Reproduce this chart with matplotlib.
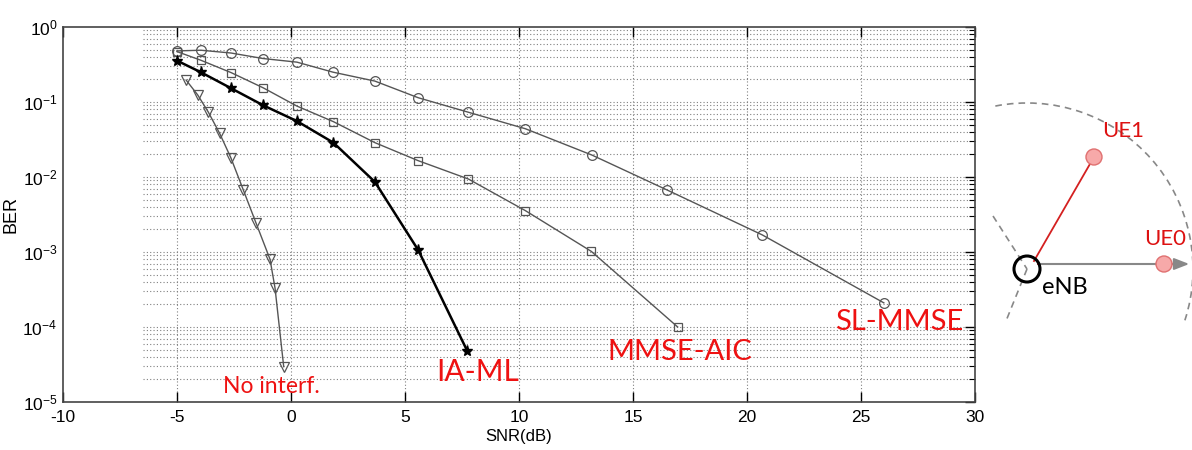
import numpy as np
import matplotlib.pyplot as plt
from matplotlib.patches import Circle, Arc
from matplotlib.ticker import LogLocator, NullFormatter

# BER curves
snr_sl = [-5.0, -3.95, -2.63, -1.23, 0.26, 1.84, 3.68, 5.58, 7.78, 10.28, 13.2, 16.5, 20.67, 26.0]
ber_sl = [0.48, 0.49, 0.45, 0.38, 0.34, 0.25, 0.19, 0.114, 0.073, 0.044, 0.0196, 0.0067, 0.00169, 2.1e-4]

snr_aic = [-5.0, -3.95, -2.62, -1.21, 0.25, 1.86, 3.68, 5.58, 7.78, 10.28, 13.17, 16.96]
ber_aic = [0.47, 0.36, 0.246, 0.154, 0.0885, 0.0547, 0.0287, 0.0165, 0.0094, 0.00356, 0.00102, 1.0e-4]

snr_ia = [-5.0, -3.95, -2.62, -1.21, 0.25, 1.86, 3.68, 5.58, 7.73]
ber_ia = [0.356, 0.249, 0.152, 0.090, 0.0558, 0.0287, 0.0086, 0.00106, 4.8e-5]

snr_ni = [-4.6, -4.09, -3.63, -3.13, -2.64, -2.09, -1.54, -0.92, -0.70, -0.32]
ber_ni = [0.196, 0.124, 0.0736, 0.0382, 0.0181, 0.0067, 0.00246, 8.0e-4, 3.3e-4, 2.96e-5]

labels = ["No interf.", "IA-ML", "MMSE-AIC", "SL-MMSE"]
label_pos = [(-3.0, 1.6e-5), (6.36, 2.5e-5), (13.86, 4.7e-5), (23.86, 1.17e-4)]
label_size = [16.5, 21.5, 21, 21]

W, H = 1192, 450
fig = plt.figure(figsize=(W / 100, H / 100), dpi=100)
plt.rcParams['font.family'] = ['Liberation Sans', 'DejaVu Sans']
plt.rcParams['axes.unicode_minus'] = False

ax = fig.add_axes([63 / W, (H - 402) / H, 912 / W, 375 / H])
ax.set_yscale('log')
ax.set_xlim(-10, 30)
ax.set_ylim(1e-5, 1)

# horizontal grid (left part of the plot is blank in the original)
major = [10.0 ** k for k in range(-4, 0)]
minor = [m * 10.0 ** k for k in range(-5, 0) for m in range(2, 10)]
ax.hlines(major + minor, -6.5, 30, colors='#808080', linestyles=(0, (1, 2)), lw=0.8, zorder=1)
for xv in range(-5, 30, 5):
    ax.axvline(xv, color='#808080', ls=(0, (1, 2)), lw=0.8, zorder=1)

gray = '#555555'
ax.plot(snr_sl, ber_sl, color=gray, lw=1.0, marker='o', ms=7, mfc='none', mec=gray, mew=0.9, zorder=3)
ax.plot(snr_aic, ber_aic, color=gray, lw=1.0, marker='s', ms=6, mfc='none', mec=gray, mew=0.9, zorder=3)
ax.plot(snr_ia, ber_ia, color='black', lw=1.8, marker='*', ms=8, mfc='black', mec='black', zorder=4)
ax.plot(snr_ni, ber_ni, color=gray, lw=1.0, marker='v', ms=7, mfc='none', mec=gray, mew=0.9, zorder=3)

for txt, (x, y), fs in zip(labels, label_pos, label_size):
    ax.text(x, y, txt, color='#ee1111', fontsize=fs, family=['Lato', 'DejaVu Sans'],
            ha='left', va='center', zorder=5)

ax.set_xticks(range(-10, 31, 5))
ax.yaxis.set_major_locator(LogLocator(base=10, numticks=10))
ax.yaxis.set_minor_locator(LogLocator(base=10, subs=np.arange(2, 10), numticks=20))
ax.yaxis.set_minor_formatter(NullFormatter())
ax.tick_params(which='both', direction='in', top=True, right=True, labelsize=12.5)
ax.tick_params(which='major', length=7, width=1.0)
ax.tick_params(which='minor', length=4, width=0.8)
ax.tick_params(axis='y', which='both', left=False, pad=4)
ax.tick_params(axis='x', pad=6)
for s in ax.spines.values():
    s.set_color('#444444')
    s.set_linewidth(1.2)
ax.set_xlabel('SNR(dB)', fontsize=12, labelpad=3)
ax.set_ylabel('BER', fontsize=13, labelpad=2)

# small cell sketch on the right
dax = fig.add_axes([985 / W, 0, (W - 985) / W, 1])
dax.set_xlim(985, W)
dax.set_ylim(H, 0)
dax.axis('off')

enb = (1027, 269)
ue1 = (1094, 157)
ue0 = (1164, 264)
dashed = dict(color='#888888', lw=1.2, ls=(0, (4, 3)))

dax.add_patch(Arc(enb, 332, 332, theta1=-101, theta2=18, **dashed))
dax.plot([993, enb[0]], [216, enb[1]], **dashed)
dax.plot([enb[0], 1006], [enb[1], 321], **dashed)
dax.annotate('', xy=(W, 264), xytext=(enb[0] + 10, 264),
             arrowprops=dict(arrowstyle='-|>,head_length=0.9,head_width=0.35', color='#888888', lw=1.5))
dax.plot([enb[0] + 10, ue0[0]], [264, 264], color='#e03030', lw=1.3, ls=(0, (3, 2)))
dax.plot([enb[0] + 7, ue1[0]], [enb[1] - 8, ue1[1]], color='#d42020', lw=1.3)
dax.add_patch(Circle(enb, 13, fc='none', ec='black', lw=2.2, zorder=5))
for p in (ue1, ue0):
    dax.add_patch(Circle(p, 8, fc='#f7a9a9', ec='#e07070', lw=1, zorder=6))
dax.text(1123, 131, 'UE1', color='#dd1111', fontsize=16, family=['Lato', 'DejaVu Sans'], ha='center', va='center')
dax.text(1165, 239, 'UE0', color='#dd1111', fontsize=16, family=['Lato', 'DejaVu Sans'], ha='center', va='center')
dax.text(1065, 288, 'eNB', color='black', fontsize=17, family=['Lato', 'DejaVu Sans'], ha='center', va='center')

fig.savefig('out.png', dpi=100)
